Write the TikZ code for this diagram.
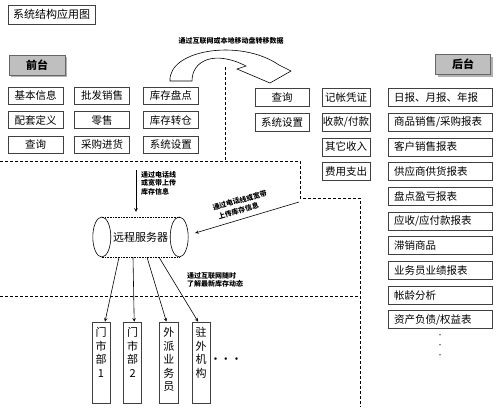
\documentclass[tikz,border=0pt]{standalone}
\usepackage{fontspec}
\setmainfont{Noto Sans CJK SC}
\usepackage{tikz}
\usetikzlibrary{arrows, positioning, calc, shadows}

\begin{document}
\begin{tikzpicture}[
    x=1pt, y=1pt,
    box/.style={rectangle, draw=black!75, line width=0.7pt, minimum width=55pt, minimum height=17pt, inner sep=1pt, font=\fontsize{10.5}{12}\selectfont},
    rep/.style={box, minimum height=18pt, text width=92pt, align=left, inner xsep=6pt},
    tab/.style={rectangle, draw=black!60, fill=black!25, minimum width=56pt, minimum height=20pt, font=\bfseries\fontsize{11}{13}\selectfont, drop shadow={shadow xshift=2pt, shadow yshift=-2pt, fill=black!60}},
    vbox/.style={rectangle, draw=black!75, line width=0.7pt, inner xsep=3pt, inner ysep=5.5pt, font=\fontsize{11}{13.5}\selectfont},
    note/.style={font=\bfseries\fontsize{7}{8.5}\selectfont, align=left, inner sep=0pt},
    arrow/.style={->, >=stealth, line width=0.6pt},
    sep/.style={densely dashed, line width=0.8pt}
]
    \useasboundingbox (0,0) rectangle (497,-407);

    % title and the two tabs
    \node[box, minimum width=87pt, minimum height=19pt, font=\fontsize{11}{13}\selectfont] (title) at (51.5,-14.5) {系统结构应用图};
    \node[tab] (front) at (37,-65) {前台};
    \node[tab, minimum width=55pt] (back) at (463,-64.5) {后台};

    % front side
    \node[box] (jbxx) at (35.5,-95.5) {基本信息};
    \node[box, right=11pt of jbxx] (pfxs) {批发销售};
    \node[box, right=13pt of pfxs] (kcpd) {库存盘点};
    \node[box, below=7pt of jbxx] (ptdy) {配套定义};
    \node[box, below=7pt of pfxs] (ls) {零售};
    \node[box, below=7pt of kcpd] (kczc) {库存转仓};
    \node[box, below=7pt of ptdy] (fcx) {查询};
    \node[box, below=7pt of ls] (cgjh) {采购进货};
    \node[box, below=7pt of kczc] (fxt) {系统设置};

    % back side
    \node[box, minimum width=54pt, minimum height=18pt] (bcx) at (282,-97.5) {查询};
    \node[box, minimum width=54pt, minimum height=18pt, below=6pt of bcx] (bxt) {系统设置};
    \node[box, minimum width=48pt, minimum height=18pt] (jzpz) at (346,-97.5) {记帐凭证};
    \node[box, minimum width=48pt, minimum height=18pt, below=6pt of jzpz] (skfk) {收款/付款};
    \node[box, minimum width=48pt, minimum height=18pt, below=6pt of skfk] (qtsr) {其它收入};
    \node[box, minimum width=48pt, minimum height=18pt, below=6pt of qtsr] (fyzc) {费用支出};
    \node[rep] (r1) at (440,-97.5) {日报、月报、年报};
    \node[rep, below=6pt of r1] (r2) {商品销售/采购报表};
    \node[rep, below=6pt of r2] (r3) {客户销售报表};
    \node[rep, below=6pt of r3] (r4) {供应商供货报表};
    \node[rep, below=6pt of r4] (r5) {盘点盈亏报表};
    \node[rep, below=6pt of r5] (r6) {应收/应付款报表};
    \node[rep, below=6pt of r6] (r7) {滞销商品};
    \node[rep, below=6pt of r7] (r8) {业务员业绩报表};
    \node[rep, below=6pt of r8] (r9) {帐龄分析};
    \node[rep, below=6pt of r9] (r10) {资产负债/权益表};
    \node[font=\fontsize{6}{10}\selectfont, align=center, below=2pt of r10] (rdots) {•\\•\\•};

    % data transfer arrow
    \node[note] (movtxt) at (231,-41) {通过互联网或本地移动盘转移数据};
    \draw[line width=0.6pt, fill=white] (170,-81) .. controls (168,-50) and (240,-38) .. (279,-65)
        -- (291,-71) -- (270,-83) -- (237,-69) -- (246,-66)
        .. controls (215,-50) and (192,-60) .. (192,-81) -- cycle;

    % borders
    \draw[sep] (225,-67) -- (225,-161);
    \draw[sep] (0,-161) -- (300,-161) -- (300,-198) -- (360,-198) -- (360,-407);
    \draw[sep] (0,-296) -- (360,-296);

    % remote server
    \node[minimum width=95pt, minimum height=40pt, font=\fontsize{11}{13}\selectfont] (srv) at (140.5,-237) {远程服务器};
    \draw[line width=0.6pt] ([xshift=9pt]srv.west) ellipse (9pt and 20pt);
    \draw[line width=0.6pt] ([xshift=-9pt]srv.east) ellipse (9pt and 20pt);
    \draw[line width=0.6pt, densely dotted] ([xshift=9pt]srv.north west) -- ([xshift=-9pt]srv.north east);
    \draw[line width=0.6pt, densely dotted] ([xshift=9pt]srv.south west) -- ([xshift=-9pt]srv.south east);

    % uploads
    \coordinate (up) at (136,-170);
    \draw[arrow] (up) -- ([yshift=5pt]up |- srv.north);
    \node[note, anchor=north west] (uptxt) at (141,-171) {通过电话线\\或宽带上传\\库存信息};
    \coordinate (dg) at (299,-202);
    \draw[arrow] (dg) -- ([xshift=7pt,yshift=4pt]srv.east);
    \node[note, font=\bfseries\fontsize{7}{9.5}\selectfont, rotate=16] (dgtxt) at (241,-205) {通过电话线或宽带\\\hspace*{3pt}上传库存信息};

    % branches
    \node[vbox] (m1) at (101,-362.5) {\parbox[t][70pt][t]{12pt}{\centering 门\\市\\部\\1}};
    \node[vbox, right=13pt of m1] (m2) {\parbox[t][70pt][t]{12pt}{\centering 门\\市\\部\\2}};
    \node[vbox, right=17pt of m2] (m3) {\parbox[t][70pt][t]{13pt}{\centering 外\\派\\业\\务\\员}};
    \node[vbox, right=13pt of m3] (m4) {\parbox[t][70pt][t]{12pt}{\centering 驻\\外\\机\\构}};
    \node[font=\bfseries\fontsize{9}{11}\selectfont] (mdots) at (226,-360) {•\,•\,•};
    \draw[arrow] ([xshift=-21.5pt]srv.south) -- ([xshift=4pt]m1.north);
    \draw[arrow] ([xshift=-7.5pt]srv.south) -- ([xshift=1.5pt]m2.north);
    \draw[arrow] ([xshift=6.5pt]srv.south) -- ([xshift=-2.5pt]m3.north);
    \draw[arrow] ([xshift=18.5pt]srv.south) -- ([xshift=-3pt]m4.north);
    \node[note, anchor=north west] (dltxt) at (187,-272) {通过互联网随时\\了解最新库存动态};
\end{tikzpicture}
\end{document}
